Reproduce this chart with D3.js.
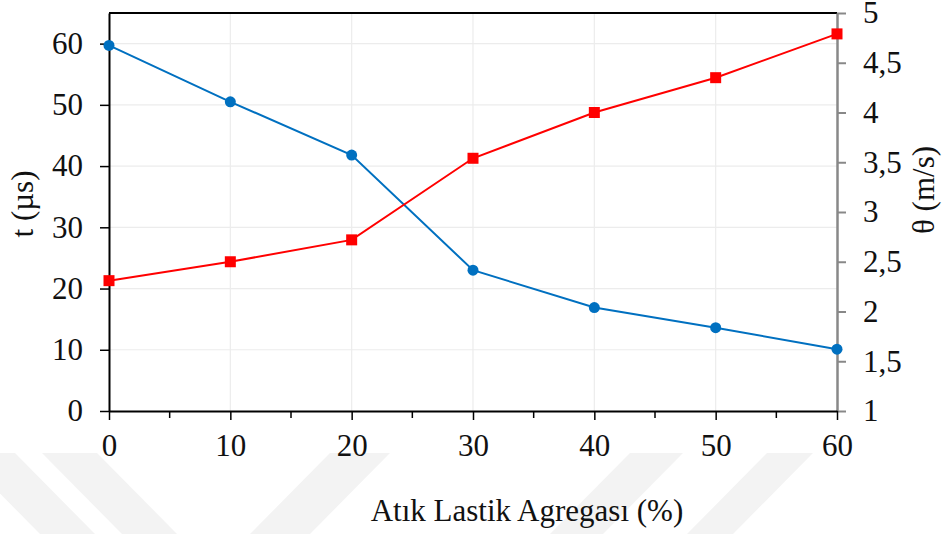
<!DOCTYPE html>
<html>
<head>
<meta charset="utf-8">
<script src="https://d3js.org/d3.v7.min.js"></script>
<style>
  body { margin: 0; background: #fff; }
</style>
</head>
<body>
<script>
// data
var xVals = [0, 10, 20, 30, 40, 50, 60];
var tVals = [59.7, 50.5, 41.8, 23.0, 16.9, 13.6, 10.1];      // t (µs), left axis
var thetaVals = [2.31, 2.50, 2.72, 3.54, 4.00, 4.35, 4.79];  // θ (m/s), right axis
var leftTicks = [0, 10, 20, 30, 40, 50, 60];
var rightTicks = [1, 1.5, 2, 2.5, 3, 3.5, 4, 4.5, 5];
var xTicks = [0, 10, 20, 30, 40, 50, 60];
var xMinor = [5, 15, 25, 35, 45, 55];

var FONT = "'Liberation Serif', 'Times New Roman', serif";
var FS = '31px';
var width = 946, height = 534;
var m = {left: 109, right: 837, top: 13, bottom: 411};

var svg = d3.select('body').append('svg')
  .attr('width', width).attr('height', height)
  .style('font-family', FONT);

// faint watermark stripes at the bottom
var wm = svg.append('g').attr('fill', '#f3f3f3');
var stripes = [
  [[-40, 453], [15, 453], [95, 534], [40, 534]],
  [[42, 453], [97, 453], [177, 534], [122, 534]],
  [[330, 453], [390, 453], [310, 534], [250, 534]],
  [[630, 453], [683, 453], [603, 534], [550, 534]],
  [[767, 453], [813, 453], [733, 534], [687, 534]]
];
stripes.forEach(function(p) {
  wm.append('polygon').attr('points', p.join(' '));
});

var x = d3.scaleLinear().domain([0, 60]).range([m.left, m.right]);
var yL = d3.scaleLinear().domain([0, 65]).range([m.bottom, m.top]);
var yR = d3.scaleLinear().domain([1, 5]).range([m.bottom, m.top]);

// grid
svg.append('g').selectAll('line').data(leftTicks.slice(1)).enter().append('line')
  .attr('x1', m.left).attr('x2', m.right)
  .attr('y1', function(d) { return yL(d); }).attr('y2', function(d) { return yL(d); })
  .attr('stroke', '#ececec').attr('stroke-width', 1.2);
svg.append('g').selectAll('line').data(xTicks.slice(1, -1)).enter().append('line')
  .attr('y1', m.top).attr('y2', m.bottom)
  .attr('x1', function(d) { return x(d); }).attr('x2', function(d) { return x(d); })
  .attr('stroke', '#ececec').attr('stroke-width', 1.2);

// top border
svg.append('line').attr('x1', m.left).attr('x2', m.right)
  .attr('y1', m.top).attr('y2', m.top).attr('stroke', '#000').attr('stroke-width', 2);

function styleTexts(g) {
  g.attr('font-family', null);
  g.selectAll('text').style('font-family', FONT).style('font-size', FS).attr('fill', '#111');
}

// left axis
var gL = svg.append('g').attr('transform', 'translate(' + m.left + ',0)')
  .call(d3.axisLeft(yL).tickValues(leftTicks).tickSize(9).tickPadding(17).tickSizeOuter(0));
gL.select('.domain').attr('stroke', '#000').attr('stroke-width', 2);
gL.selectAll('.tick line').attr('stroke', '#000').attr('stroke-width', 1.5);
styleTexts(gL);

// right axis
var gR = svg.append('g').attr('transform', 'translate(' + m.right + ',0)')
  .call(d3.axisRight(yR).tickValues(rightTicks).tickSize(9).tickPadding(17).tickSizeOuter(0)
    .tickFormat(function(d) { return String(d).replace('.', ','); }));
gR.select('.domain').attr('stroke', '#888').attr('stroke-width', 2.5);
gR.selectAll('.tick line').attr('stroke', '#888').attr('stroke-width', 2);
styleTexts(gR);

// bottom axis
var gB = svg.append('g').attr('transform', 'translate(0,' + m.bottom + ')')
  .call(d3.axisBottom(x).tickValues(xTicks).tickSize(9).tickPadding(14).tickSizeOuter(0));
gB.select('.domain').attr('stroke', '#000').attr('stroke-width', 2);
gB.selectAll('.tick line').attr('stroke', '#000').attr('stroke-width', 1.5);
styleTexts(gB);
svg.append('g').selectAll('line').data(xMinor).enter().append('line')
  .attr('x1', function(d) { return x(d); }).attr('x2', function(d) { return x(d); })
  .attr('y1', m.bottom).attr('y2', m.bottom + 7)
  .attr('stroke', '#000').attr('stroke-width', 1.5);

// blue line (t)
var tData = xVals.map(function(v, i) { return [v, tVals[i]]; });
svg.append('path').datum(tData)
  .attr('fill', 'none').attr('stroke', '#0070C0').attr('stroke-width', 2)
  .attr('d', d3.line().x(function(d) { return x(d[0]); }).y(function(d) { return yL(d[1]); }));
svg.append('g').selectAll('circle').data(tData).enter().append('circle')
  .attr('cx', function(d) { return x(d[0]); }).attr('cy', function(d) { return yL(d[1]); })
  .attr('r', 5.5).attr('fill', '#0070C0');

// red line (θ)
var thData = xVals.map(function(v, i) { return [v, thetaVals[i]]; });
svg.append('path').datum(thData)
  .attr('fill', 'none').attr('stroke', '#FF0000').attr('stroke-width', 2)
  .attr('d', d3.line().x(function(d) { return x(d[0]); }).y(function(d) { return yR(d[1]); }));
svg.append('g').selectAll('rect').data(thData).enter().append('rect')
  .attr('x', function(d) { return x(d[0]) - 5.5; }).attr('y', function(d) { return yR(d[1]) - 5.5; })
  .attr('width', 11).attr('height', 11).attr('fill', '#FF0000');

// axis titles
svg.append('text').attr('x', 527).attr('y', 521).attr('text-anchor', 'middle')
  .style('font-family', FONT).style('font-size', FS).attr('fill', '#111')
  .text('Atık Lastik Agregası (%)');
svg.append('text').attr('transform', 'translate(33,204) rotate(-90)').attr('text-anchor', 'middle')
  .style('font-family', FONT).style('font-size', FS).attr('fill', '#111')
  .text('t (µs)');
svg.append('text').attr('transform', 'translate(934,190) rotate(-90)').attr('text-anchor', 'middle')
  .style('font-family', FONT).style('font-size', FS).attr('fill', '#111')
  .text('θ (m/s)');
</script>
</body>
</html>
